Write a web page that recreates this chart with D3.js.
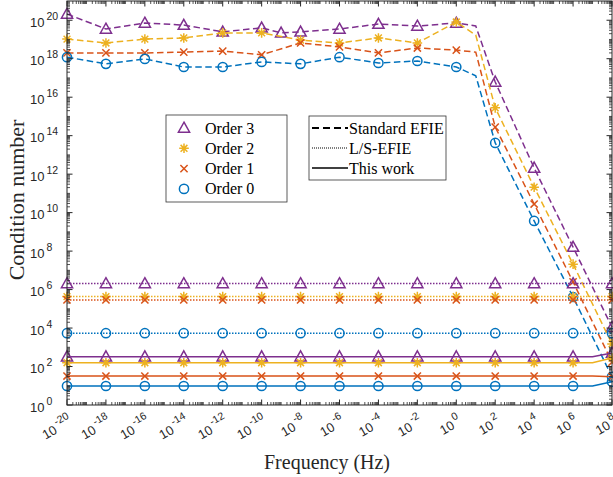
<!DOCTYPE html>
<html><head><meta charset="utf-8">
<script src="https://cdn.jsdelivr.net/npm/d3@7"></script>
<style>
body{margin:0;background:#fff} svg{display:block}
.sans{font-family:"Liberation Sans", Arial, Helvetica, sans-serif;}
.serif{font-family:"Liberation Serif", "Times New Roman", "DejaVu Serif", serif;}
</style>
</head><body><svg id="c" width="613" height="477"></svg>
<script>
// ---- data ----
const orders = ["Order 3", "Order 2", "Order 1", "Order 0"];
const colors = ["#7E2F8E", "#EDB120", "#D95319", "#0072BD"];
const markers = ["triangle", "star", "cross", "circle"];
const methods = ["Standard EFIE", "L/S-EFIE", "This work"];

// frequency exponents (10^e Hz)
const stdExp   = [-20,-18,-16,-14,-12,-10,-8,-6,-4,-2,0,1,2,4,6,8];
const stdExpO3 = [-20,-18,-16,-14,-12,-10,-9,-8,-6,-4,-2,0,1,2,4,6,8];
const lsExp    = [-20,-18,-16,-14,-12,-10,-8,-6,-4,-2,0,2,4,6,8];
const twExp    = [-20,-18,-16,-14,-12,-10,-8,-6,-4,-2,0,2,4,6,7,8];
const stdNoMarker = [1];
const twNoMarker = [7];

// Standard EFIE
const stdO3 = [2.1e20,3.5e19,7.2e19,5.6e19,2.5e19,4.0e19,2.2e19,2.5e19,3.5e19,6.3e19,5.0e19,7.2e19,5.0e19,6.2e16,2.1e12,1.6e8,1.1e4];
const stdO2 = [1.05e19,6.6e18,1.05e19,1.2e19,2.2e19,2.2e19,9.3e18,6.6e18,1.2e19,6.6e18,8.1e19,1.7e19,2.8e15,2.1e11,2.1e7,1.5e3];
const stdO1 = [2.0e18,2.0e18,2.0e18,2.2e18,2.5e18,1.6e18,6.6e18,4.1e18,2.0e18,3.6e18,2.8e18,2.2e18,2.8e14,2.8e10,2.5e6,1.7e2];
const stdO0 = [1.2e18,5.4e17,9.8e17,3.7e17,3.7e17,6.8e17,5.4e17,1.2e18,6.0e17,7.6e17,3.7e17,1.3e17,4.2e13,3.7e9,4.1e5,29];

// L/S-EFIE
const lsO3 = [2.07e6,2.07e6,2.07e6,2.07e6,2.07e6,2.07e6,2.07e6,2.07e6,2.07e6,2.07e6,2.07e6,2.07e6,2.07e6,2.07e6,2.07e6];
const lsO2 = [4.3e5,4.3e5,4.3e5,4.3e5,4.3e5,4.3e5,4.3e5,4.3e5,4.3e5,4.3e5,4.3e5,4.3e5,4.3e5,4.3e5,4.3e5];
const lsO1 = [2.9e5,2.9e5,2.9e5,2.9e5,2.9e5,2.9e5,2.9e5,2.9e5,2.9e5,2.9e5,2.9e5,2.9e5,2.9e5,2.9e5,2.9e5];
const lsO0 = [5.4e3,5.4e3,5.4e3,5.4e3,5.4e3,5.4e3,5.4e3,5.4e3,5.4e3,5.4e3,5.4e3,5.4e3,5.4e3,5.4e3,5.4e3];

// This work
const twO3 = [324,324,324,324,324,324,324,324,324,324,324,324,324,324,324,506];
const twO2 = [158,158,158,158,158,158,158,158,158,158,158,158,158,158,158,275];
const twO1 = [32,32,32,32,32,32,32,32,32,32,32,32,32,32,32,29.6];
const twO0 = [9.7,9.7,9.7,9.7,9.7,9.7,9.7,9.7,9.7,9.7,9.7,9.7,9.7,9.7,9.7,16.3];

const xTickExp = [-20,-18,-16,-14,-12,-10,-8,-6,-4,-2,0,2,4,6,8];
const yTickExp = [0,2,4,6,8,10,12,14,16,18,20];

// ---- layout ----
const svg = d3.select("#c");
const L = 67, R = 612, T = 1, B = 405;
const x = d3.scaleLog().domain([1e-20, 1e8]).range([L, R]);
const y = d3.scaleLog().domain([1, 1e21]).range([B, T]);
const axisColor = "#262626";

const dash = {"Standard EFIE": "6.5,3.5", "L/S-EFIE": "1.5,1.5", "This work": null};

const series = [
  {method: "Standard EFIE", exp: [stdExpO3, stdExp, stdExp, stdExp], vals: [stdO3, stdO2, stdO1, stdO0], skip: stdNoMarker},
  {method: "L/S-EFIE", exp: [lsExp, lsExp, lsExp, lsExp], vals: [lsO3, lsO2, lsO1, lsO0], skip: []},
  {method: "This work", exp: [twExp, twExp, twExp, twExp], vals: [twO3, twO2, twO1, twO0], skip: twNoMarker}
];

function markerPath(type) {
  const p = d3.path();
  if (type === "triangle") {
    p.moveTo(0, -5.8); p.lineTo(5.6, 4.2); p.lineTo(-5.6, 4.2); p.closePath();
  } else if (type === "circle") {
    p.arc(0, 0, 4.6, 0, 2 * Math.PI);
  } else if (type === "cross") {
    const r = 3.6;
    p.moveTo(-r, -r); p.lineTo(r, r); p.moveTo(-r, r); p.lineTo(r, -r);
  } else if (type === "star") {
    const r = 4.8, d = 3.4;
    p.moveTo(-r, 0); p.lineTo(r, 0); p.moveTo(0, -r); p.lineTo(0, r);
    p.moveTo(-d, -d); p.lineTo(d, d); p.moveTo(-d, d); p.lineTo(d, -d);
  }
  return p.toString();
}

const plot = svg.append("g");
const line = d3.line().x(d => x(Math.pow(10, d.e))).y(d => y(d.v));

series.forEach(s => {
  orders.forEach((o, i) => {
    const pts = s.exp[i].map((e, j) => ({e, v: s.vals[i][j]}));
    plot.append("path").datum(pts)
      .attr("d", line)
      .attr("fill", "none")
      .attr("stroke", colors[i])
      .attr("stroke-width", 1.5)
      .attr("stroke-dasharray", dash[s.method]);
    plot.selectAll(null).data(pts.filter(d => !s.skip.includes(d.e))).enter()
      .append("path")
      .attr("transform", d => `translate(${x(Math.pow(10, d.e))},${y(d.v)})`)
      .attr("d", markerPath(markers[i]))
      .attr("fill", "none")
      .attr("stroke", colors[i])
      .attr("stroke-width", 1.5);
  });
});

// ---- axes ----
const ax = svg.append("g").attr("stroke", axisColor).attr("stroke-width", 1).attr("fill", "none");
ax.append("rect").attr("x", L).attr("y", T).attr("width", R - L).attr("height", B - T);

function minorVals(lo, hi) {
  const out = [];
  for (let k = lo; k < hi; k++) {
    for (let m = 1; m <= 9; m++) {
      if (m === 1 && k % 2 === 0) continue;
      out.push(m * Math.pow(10, k));
    }
  }
  return out;
}
const majLen = 5.5, minLen = 3;
const xMinor = minorVals(-20, 8), yMinor = minorVals(0, 21);
xTickExp.forEach(e => {
  const xx = x(Math.pow(10, e));
  ax.append("line").attr("x1", xx).attr("x2", xx).attr("y1", B).attr("y2", B - majLen);
  ax.append("line").attr("x1", xx).attr("x2", xx).attr("y1", T).attr("y2", T + majLen);
});
xMinor.forEach(v => {
  const xx = x(v);
  ax.append("line").attr("x1", xx).attr("x2", xx).attr("y1", B).attr("y2", B - minLen).attr("stroke-width", 0.8);
  ax.append("line").attr("x1", xx).attr("x2", xx).attr("y1", T).attr("y2", T + minLen).attr("stroke-width", 0.8);
});
yTickExp.forEach(e => {
  const yy = y(Math.pow(10, e));
  ax.append("line").attr("x1", L).attr("x2", L + majLen).attr("y1", yy).attr("y2", yy);
  ax.append("line").attr("x1", R).attr("x2", R - majLen).attr("y1", yy).attr("y2", yy);
});
yMinor.forEach(v => {
  const yy = y(v);
  ax.append("line").attr("x1", L).attr("x2", L + minLen).attr("y1", yy).attr("y2", yy).attr("stroke-width", 0.8);
  ax.append("line").attr("x1", R).attr("x2", R - minLen).attr("y1", yy).attr("y2", yy).attr("stroke-width", 0.8);
});

// tick labels
yTickExp.forEach(e => {
  const t = svg.append("text").attr("class", "sans")
    .attr("x", 30).attr("y", y(Math.pow(10, e)) + 6.5)
    .attr("text-anchor", "start")
    .attr("fill", axisColor);
  t.append("tspan").attr("font-size", 13).text("10");
  t.append("tspan").attr("font-size", 10.5).attr("dx", 2).attr("dy", -7).text(String(e));
});
xTickExp.forEach(e => {
  const g = svg.append("g").attr("transform", `translate(${x(Math.pow(10, e)) + 6},${424}) rotate(-30)`);
  const t = g.append("text").attr("class", "sans").attr("x", 0).attr("y", 0)
    .attr("text-anchor", "end")
    .attr("fill", axisColor);
  t.append("tspan").attr("font-size", 13).text("10");
  t.append("tspan").attr("font-size", 10.5).attr("dx", 2).attr("dy", -7).text(String(e));
});

// axis titles
svg.append("text").attr("class", "serif").attr("x", 327).attr("y", 469)
  .attr("text-anchor", "middle").attr("font-size", 20).attr("fill", axisColor)
  .text("Frequency (Hz)");
svg.append("text").attr("class", "serif").attr("transform", `translate(24,200) rotate(-90)`)
  .attr("text-anchor", "middle").attr("font-size", 22).attr("fill", axisColor)
  .text("Condition number");

// ---- legends ----
const lg1 = svg.append("g");
lg1.append("rect").attr("x", 166).attr("y", 115).attr("width", 121).attr("height", 87)
  .attr("fill", "#fff").attr("stroke", "#333").attr("stroke-width", 0.8);
orders.forEach((o, i) => {
  const yy = 128 + i * 20.3;
  lg1.append("path").attr("transform", `translate(184,${yy})`).attr("d", markerPath(markers[i]))
    .attr("fill", "none").attr("stroke", colors[i]).attr("stroke-width", 1.5);
  lg1.append("text").attr("class", "serif").attr("x", 205).attr("y", yy + 5.5).attr("font-size", 16)
    .attr("fill", "#000").text(o);
});
const lg2 = svg.append("g");
lg2.append("rect").attr("x", 309).attr("y", 116).attr("width", 137).attr("height", 64)
  .attr("fill", "#fff").attr("stroke", "#333").attr("stroke-width", 0.8);
const lgDash = {"Standard EFIE": "7,4", "L/S-EFIE": "1,1", "This work": null};
const lgW = {"Standard EFIE": 2, "L/S-EFIE": 1, "This work": 1.5};
methods.forEach((m, i) => {
  const yy = 128 + i * 20;
  lg2.append("line").attr("x1", 312).attr("x2", 348).attr("y1", yy).attr("y2", yy)
    .attr("stroke", "#000").attr("stroke-width", lgW[m]).attr("stroke-dasharray", lgDash[m]);
  lg2.append("text").attr("class", "serif").attr("x", 349).attr("y", yy + 5.5).attr("font-size", 16)
    .attr("fill", "#000").text(m);
});
</script></body></html>
